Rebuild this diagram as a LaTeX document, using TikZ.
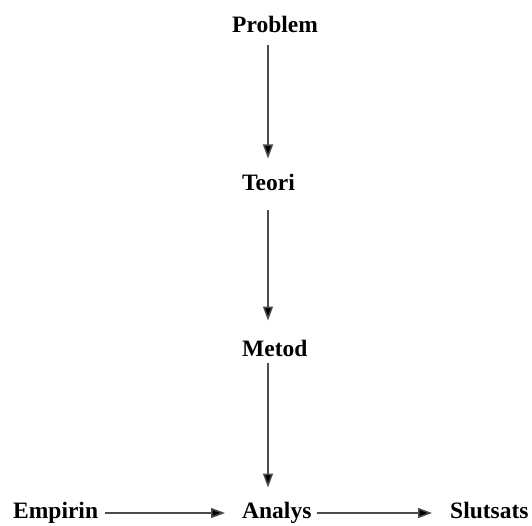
\documentclass[tikz,border=0pt]{standalone}
\usepackage{fontspec}
\setmainfont{Liberation Serif}
\usetikzlibrary{arrows.meta}
\begin{document}
\begin{tikzpicture}[x=1pt,y=-1pt,
  lbl/.style={inner sep=0pt,anchor=base west,font=\fontsize{23.5}{27}\selectfont\bfseries},
  arr/.style={draw=black!70,line width=1.5pt,-{Triangle[length=14pt,width=10pt,fill=black]}}]
\useasboundingbox (0,0) rectangle (532,525);
\node[lbl] (prob) at (232,32) {Problem};
\node[lbl] (teori) at (242,190) {Teori};
\node[lbl] (metod) at (242,356) {Metod};
\node[lbl] (emp) at (13,518) {Empirin};
\node[lbl] (ana) at (242,518) {Analys};
\node[lbl] (slut) at (450,518) {Slutsats};
\coordinate (ax) at (268,0);
\draw[arr,shorten <=13pt,shorten >=15pt] (prob.south -| ax) -- (teori.north -| ax);
\draw[arr,shorten <=20pt,shorten >=19pt] (teori.south -| ax) -- (metod.north -| ax);
\draw[arr,shorten <=7pt,shorten >=14pt] (metod.south -| ax) -- (ana.north -| ax);
\draw[arr] ([xshift=7pt,yshift=5pt]emp.base east) -- ([xshift=-17pt,yshift=5pt]ana.base west);
\draw[arr] ([xshift=5pt,yshift=5pt]ana.base east) -- ([xshift=-18pt,yshift=5pt]slut.base west);
\end{tikzpicture}
\end{document}
